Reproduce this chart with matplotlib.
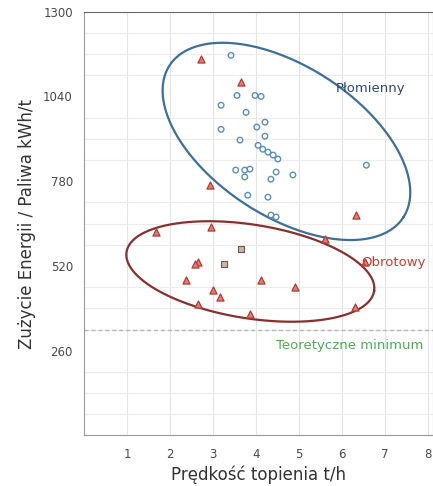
import numpy as np
import matplotlib
matplotlib.use("Agg")
import matplotlib.pyplot as plt

# --- data ---
plomienny_x = [3.42, 3.56, 3.98, 4.12, 3.19, 3.77, 3.19, 4.02, 4.21, 4.21, 3.63, 4.05, 4.16,
               4.28, 4.40, 4.51, 3.53, 3.74, 3.86, 3.74, 4.47, 4.35, 4.86, 3.81, 4.28, 4.35,
               4.47, 6.57]
plomienny_y = [1166, 1043, 1043, 1040, 1013, 991, 939, 946, 961, 918, 906, 890, 878,
               869, 860, 848, 814, 814, 817, 793, 808, 786, 799, 737, 731, 676,
               670, 829]

obrotowy_x = [2.72, 3.65, 2.93, 6.33, 2.95, 1.67, 6.53, 2.65, 2.58, 2.37, 4.12, 4.91,
              3.00, 3.16, 2.65, 3.86, 6.30, 5.60]
obrotowy_y = [1154, 1083, 767, 676, 640, 624, 532, 532, 526, 477, 477, 456,
              447, 425, 404, 373, 395, 603]

inne_x = [3.65, 3.26]
inne_y = [572, 526]

theoretical_min = 325

x_ticks = [1, 2, 3, 4, 5, 6, 7, 8]
y_ticks = [260, 520, 780, 1040, 1300]

# ellipse definitions: centre, semi-axis vector 1, semi-axis vector 2 (data units)
blue_ell_c = (4.71, 902)
blue_ell_u = (2.72, -233)
blue_ell_v = (-0.95, -193)
red_ell_c = (3.87, 503)
red_ell_u = (2.88, -60)
red_ell_v = (-0.17, -142)

fig = plt.figure(figsize=(4.33, 4.86), dpi=100)
ax = fig.add_axes([0.194, 0.104, 0.806, 0.872])
ax.set_xlim(0, 8.12)
ax.set_ylim(0, 1300)

# grid
ax.set_yticks(np.arange(0, 1301, 65), minor=True)
ax.grid(True, which="minor", axis="y", color="#ececec", lw=0.8)
ax.grid(True, which="major", axis="x", color="#e4e4e4", lw=0.8)
ax.set_axisbelow(True)

ax.axhline(theoretical_min, color="#b8b8b8", lw=1.0, ls=(0, (3, 2)))

t = np.linspace(0, 2 * np.pi, 300)
for c, u, v, col in [(blue_ell_c, blue_ell_u, blue_ell_v, "#3d6f99"),
                     (red_ell_c, red_ell_u, red_ell_v, "#8a2e2e")]:
    ex = c[0] + u[0] * np.cos(t) + v[0] * np.sin(t)
    ey = c[1] + u[1] * np.cos(t) + v[1] * np.sin(t)
    ax.plot(ex, ey, color=col, lw=1.6)

ax.scatter(plomienny_x, plomienny_y, s=16, marker="o", facecolors="none",
           edgecolors="#5a8fbb", linewidths=1.0, zorder=3)
ax.scatter(obrotowy_x, obrotowy_y, s=26, marker="^", facecolors="#d9807a",
           edgecolors="#b83a30", linewidths=0.9, zorder=3)
ax.scatter(inne_x, inne_y, s=18, marker="s", facecolors="#c9b7a8",
           edgecolors="#6b5a50", linewidths=0.8, zorder=3)

ax.text(5.85, 1065, "Płomienny", color="#2c4a78", fontsize=9.5, ha="left", va="center")
ax.text(6.45, 530, "Obrotowy", color="#d03a30", fontsize=9.5, ha="left", va="center")
ax.text(7.9, 277, "Teoretyczne minimum", color="#4caf50", fontsize=9.5,
        ha="right", va="center")

ax.set_xticks(x_ticks)
ax.set_yticks(y_ticks)
ax.tick_params(axis="both", which="both", length=0, labelsize=8.5, colors="#4a4a4a")
ax.tick_params(axis="x", pad=9)
ax.tick_params(axis="y", pad=8)
for s in ["left", "bottom", "top", "right"]:
    ax.spines[s].set_color("#9a9a9a")
ax.spines["top"].set_color("#666666")

ax.set_xlabel("Prędkość topienia t/h", fontsize=12, color="#333333", labelpad=3)
ax.set_ylabel("Zużycie Energii / Paliwa kWh/t", fontsize=12, color="#333333", labelpad=5)

fig.savefig("out.png", dpi=100)
